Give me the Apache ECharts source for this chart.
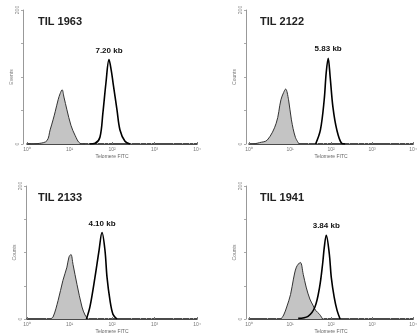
<!DOCTYPE html>
<html>
<head>
<meta charset="utf-8">
<script src="https://cdn.jsdelivr.net/npm/echarts@6/dist/echarts.min.js"></script>
<style>
  html, body { margin: 0; padding: 0; background: #fff; }
  #chart { width: 420px; height: 335px; }
</style>
</head>
<body>
<div id="chart"></div>
<script>
// sample names, peak annotations, axis names
const panelTitles = ['TIL 1963', 'TIL 2122', 'TIL 2133', 'TIL 1941']
const peakLabels = ['7.20 kb', '5.83 kb', '4.10 kb', '3.84 kb']
const yNames = ['Events', 'Counts', 'Counts', 'Counts']
const xName = 'Telomere FITC'
const xTickLabels = { 1: '10⁰', 10: '10¹', 100: '10²', 1000: '10³', 10000: '10⁴' }
const yTicks = [0, 50, 100, 150, 200]

// [fluorescence, count]
// gray filled = control, black outline = TIL sample
const ctrl1963 = [[1, 0], [2.0, 1], [2.95, 5], [3.5, 21], [4.1, 36], [4.6, 48], [5.4, 66], [6.0, 75], [6.7, 81], [7.4, 70], [8.7, 51], [10.8, 28], [13.5, 13], [17.7, 1], [23, 0]]
const til1963 = [[30, 0], [40, 1], [52, 10], [61, 46], [72, 91], [85, 126], [96, 110], [106, 91], [131, 51], [154, 21], [202, 4], [265, 0]]

const ctrl2122 = [[1.3, 0], [1.8, 2], [2.8, 6], [4.6, 31], [6.0, 66], [7.0, 77], [7.8, 82], [9.2, 66], [10.8, 36], [13.5, 10], [16.7, 0]]
const til2122 = [[42, 0], [55, 21], [68, 66], [76, 106], [85, 128], [95, 100], [111, 55], [138, 21], [181, 1], [220, 0]]

const ctrl2133 = [[3.5, 0], [4.1, 3], [5.4, 28], [7.0, 58], [8.7, 78], [9.7, 93], [10.8, 97], [12.1, 82], [15, 52], [19.7, 18], [23.2, 6], [27.2, 0]]
const til2133 = [[25, 0], [30.4, 19], [39.8, 63], [49.5, 103], [58.2, 130], [68.4, 103], [76.3, 63], [89.7, 28], [105.6, 7], [131, 0]]

const ctrl1941 = [[6, 0], [7.0, 6], [8.3, 18], [10.3, 37], [12.1, 60], [14.3, 78], [17.8, 85], [21, 67], [24.7, 48], [30.4, 30], [36, 21], [42, 13], [52.5, 7], [62, 0]]
const til1941 = [[15.8, 1], [27.4, 4], [40.4, 18], [52.5, 48], [62, 82], [68.4, 108], [76.3, 126], [90.9, 97], [101, 63], [119, 33], [140, 13], [166, 0]]

const controls = [ctrl1963, ctrl2122, ctrl2133, ctrl1941]
const samples = [til1963, til2122, til2133, til1941]

const layout = [
  { left: 27, top: 10, yOffset: 4 },
  { left: 249, top: 10, yOffset: 3 },
  { left: 27, top: 186, yOffset: 1 },
  { left: 249, top: 186, yOffset: 3 }
]

const chart = echarts.init(document.getElementById('chart'))

const grids = layout.map(l => ({ left: l.left, top: l.top, width: 170, height: 134 }))

const titles = panelTitles.map((t, i) => ({
  text: t,
  left: layout[i].left + 6,
  top: layout[i].top + 1,
  textStyle: { fontFamily: 'Liberation Sans, Arial', fontSize: 11, fontWeight: 'bold', color: '#222' }
}))

const xAxes = layout.map((l, i) => ({
  type: 'log',
  logBase: 10,
  gridIndex: i,
  min: 1,
  max: 10000,
  name: xName,
  nameLocation: 'middle',
  nameGap: 10,
  nameTextStyle: { fontSize: 5, color: '#666', fontFamily: 'Liberation Sans, Arial' },
  axisLine: { lineStyle: { color: '#111', width: 1.5 } },
  axisTick: { show: true, length: 2, inside: true, lineStyle: { color: '#777' } },
  minorTick: { show: true, splitNumber: 5, length: 1, lineStyle: { color: '#aaa' } },
  axisLabel: {
    fontSize: 5, color: '#777', margin: 3,
    fontFamily: 'Liberation Sans, Arial',
    formatter: v => xTickLabels[Math.round(v)] || ''
  },
  splitLine: { show: false }
}))

const yAxes = layout.map((l, i) => ({
  type: 'value',
  gridIndex: i,
  min: yTicks[0],
  max: yTicks[yTicks.length - 1],
  interval: yTicks[1] - yTicks[0],
  offset: l.yOffset,
  name: yNames[i],
  nameLocation: 'middle',
  nameGap: 8,
  nameTextStyle: { fontSize: 5, color: '#777', fontFamily: 'Liberation Sans, Arial' },
  axisLine: { show: true, lineStyle: { color: '#999', width: 1 } },
  axisTick: { show: true, length: 2, lineStyle: { color: '#aaa' } },
  axisLabel: {
    fontSize: 5, color: '#888', margin: 3, rotate: 90,
    fontFamily: 'Liberation Sans, Arial',
    formatter: v => (v === yTicks[0] || v === yTicks[yTicks.length - 1]) ? String(v) : ''
  },
  splitLine: { show: false }
}))

const series = []
controls.forEach((d, i) => {
  series.push({
    type: 'line',
    xAxisIndex: i,
    yAxisIndex: i,
    data: d,
    smooth: 0.35,
    showSymbol: false,
    lineStyle: { color: '#333', width: 1 },
    areaStyle: { color: '#c4c4c4', opacity: 1 },
    z: 2
  })
})
samples.forEach((d, i) => {
  series.push({
    type: 'line',
    xAxisIndex: i,
    yAxisIndex: i,
    data: d,
    smooth: 0.35,
    showSymbol: false,
    lineStyle: { color: '#000', width: 1.6 },
    z: 3,
    markPoint: {
      symbol: 'circle',
      symbolSize: 0,
      data: [{ type: 'max' }],
      label: {
        show: true,
        position: 'top',
        distance: 5,
        formatter: peakLabels[i],
        fontFamily: 'Liberation Sans, Arial',
        fontSize: 8,
        fontWeight: 'bold',
        color: '#111'
      }
    }
  })
})

chart.setOption({
  animation: false,
  backgroundColor: '#fff',
  title: titles,
  grid: grids,
  xAxis: xAxes,
  yAxis: yAxes,
  series
})
</script>
</body>
</html>
